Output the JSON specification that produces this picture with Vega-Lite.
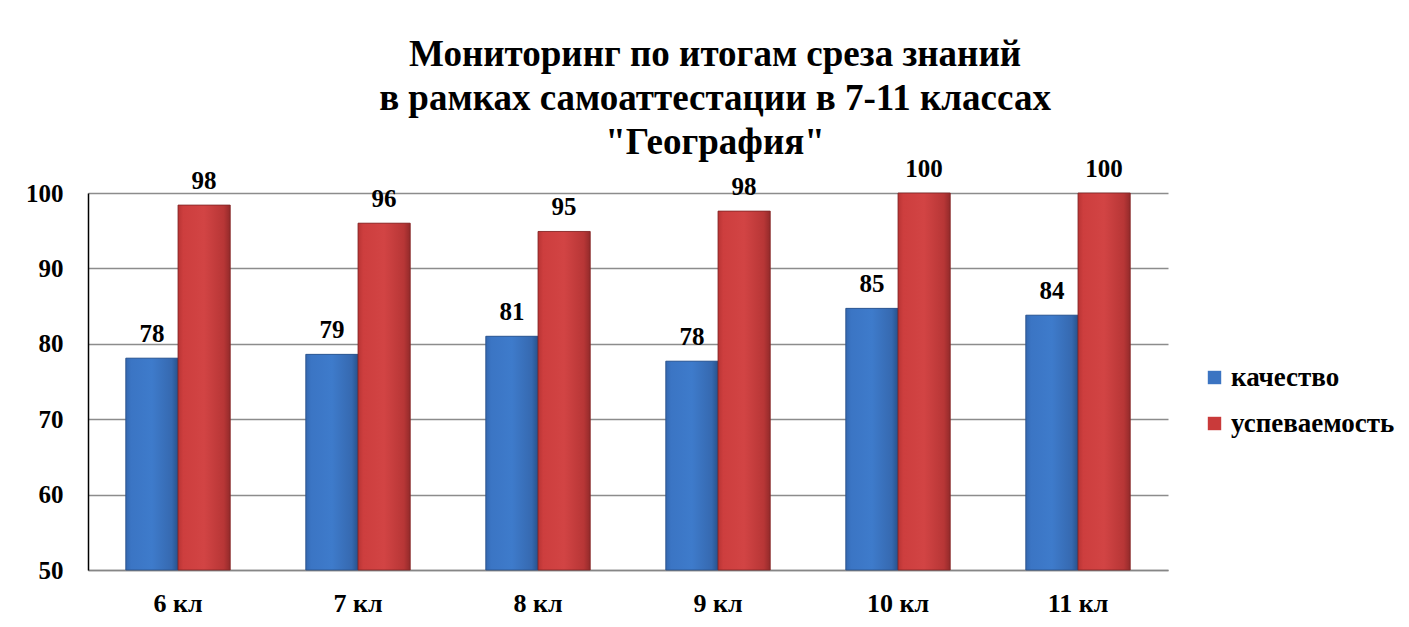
{
  "$schema": "https://vega.github.io/schema/vega-lite/v6.json",
  "autosize": {"type": "none"},
  "width": 1080,
  "height": 377,
  "padding": {"left": 88, "top": 193, "right": 241, "bottom": 57},
  "background": "white",
  "title": {
    "text": ["Мониторинг по итогам среза знаний", "в рамках самоаттестации в 7-11 классах", "\"География\""],
    "font": "Liberation Serif",
    "fontSize": 37,
    "fontWeight": "bold",
    "color": "#000000",
    "lineHeight": 44,
    "anchor": "middle",
    "dx": 87,
    "offset": -5
  },
  "data": {
    "values": [
      {"class": "6 кл", "series": "качество", "value": 78.1},
      {"class": "6 кл", "series": "успеваемость", "value": 98.4},
      {"class": "7 кл", "series": "качество", "value": 78.6},
      {"class": "7 кл", "series": "успеваемость", "value": 96.0},
      {"class": "8 кл", "series": "качество", "value": 81.0},
      {"class": "8 кл", "series": "успеваемость", "value": 94.9},
      {"class": "9 кл", "series": "качество", "value": 77.7},
      {"class": "9 кл", "series": "успеваемость", "value": 97.6},
      {"class": "10 кл", "series": "качество", "value": 84.7},
      {"class": "10 кл", "series": "успеваемость", "value": 100},
      {"class": "11 кл", "series": "качество", "value": 83.8},
      {"class": "11 кл", "series": "успеваемость", "value": 100}
    ]
  },
  "encoding": {
    "x": {
      "field": "class",
      "type": "nominal",
      "sort": null,
      "scale": {"paddingInner": 0.42, "paddingOuter": 0.21},
      "axis": {
        "title": null,
        "labelAngle": 0,
        "labelFont": "Liberation Serif",
        "labelFontSize": 26,
        "labelFontWeight": "bold",
        "labelColor": "#000000",
        "labelPadding": 20,
        "ticks": false,
        "domainColor": "#868686",
        "domainWidth": 1.5,
        "grid": false
      }
    },
    "xOffset": {"field": "series", "type": "nominal", "sort": ["качество", "успеваемость"], "scale": {"paddingInner": 0, "paddingOuter": 0}},
    "y": {
      "field": "value",
      "type": "quantitative",
      "scale": {"domain": [50, 100], "zero": false, "clamp": true, "nice": false},
      "axis": {
        "title": null,
        "values": [50, 60, 70, 80, 90, 100],
        "labelFont": "Liberation Serif",
        "labelFontSize": 25,
        "labelFontWeight": "bold",
        "labelColor": "#000000",
        "labelPadding": 25,
        "ticks": false,
        "domainColor": "#000000",
        "domainWidth": 1.5,
        "grid": true,
        "gridColor": "#8c8c8c",
        "gridWidth": 1.5
      }
    }
  },
  "layer": [
    {
      "mark": {"type": "bar"},
      "encoding": {
        "color": {
          "field": "series",
          "type": "nominal",
          "scale": {"domain": ["качество", "успеваемость"], "range": ["#3B74C2", "#C93A3A"]},
          "legend": {
            "title": null,
            "orient": "none",
            "legendX": 1113,
            "legendY": 171,
            "symbolType": "square",
            "symbolSize": 180,
            "symbolStrokeWidth": 0,
            "labelFont": "Liberation Serif",
            "labelFontSize": 27,
            "labelFontWeight": "bold",
            "labelColor": "#000000",
            "labelOffset": 3,
            "labelLimit": 400,
            "rowPadding": 18
          }
        }
      }
    },
    {
      "transform": [{"filter": "datum.series === 'качество'"}],
      "mark": {
        "type": "bar",
        "stroke": "#2a4f85",
        "strokeWidth": 0.8,
        "fill": {
          "gradient": "linear", "x1": 0, "y1": 0, "x2": 1, "y2": 0,
          "stops": [
            {"offset": 0, "color": "#3468b0"},
            {"offset": 0.1, "color": "#3b75c4"},
            {"offset": 0.5, "color": "#3e7bcb"},
            {"offset": 0.88, "color": "#3669b0"},
            {"offset": 1, "color": "#28528c"}
          ]
        }
      }
    },
    {
      "transform": [{"filter": "datum.series === 'успеваемость'"}],
      "mark": {
        "type": "bar",
        "stroke": "#7e2424",
        "strokeWidth": 0.8,
        "fill": {
          "gradient": "linear", "x1": 0, "y1": 0, "x2": 1, "y2": 0,
          "stops": [
            {"offset": 0, "color": "#b83434"},
            {"offset": 0.1, "color": "#cd3e3e"},
            {"offset": 0.5, "color": "#d24444"},
            {"offset": 0.88, "color": "#b73636"},
            {"offset": 1, "color": "#932a2a"}
          ]
        }
      }
    },
    {
      "mark": {"type": "text", "baseline": "alphabetic", "dy": -16, "font": "Liberation Serif", "fontSize": 25, "fontWeight": "bold", "color": "#000000"},
      "encoding": {
        "text": {"field": "value", "type": "quantitative", "format": ".0f"}
      }
    }
  ],
  "config": {
    "view": {"stroke": null}
  }
}
